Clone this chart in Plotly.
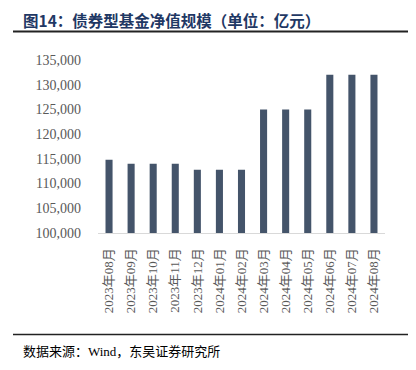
import plotly.graph_objects as go

categories = ["2023年08月", "2023年09月", "2023年10月", "2023年11月", "2023年12月",
              "2024年01月", "2024年02月", "2024年03月", "2024年04月", "2024年05月",
              "2024年06月", "2024年07月", "2024年08月"]
values = [114800, 114000, 114000, 114000, 112800, 112800, 112800,
          125000, 125000, 125000, 132000, 132000, 132000]
y_ticks = [100000, 105000, 110000, 115000, 120000, 125000, 130000, 135000]

OFF = 8  # page body margin in the browser
W, H = 416 - OFF, 370 - OFF
# plot area in page pixels: left 98, right 385, top 60, bottom 233
L, T = 98 - OFF, 60 - OFF
R = W - (385 - OFF)
B = H - (233 - OFF)
pw, ph = W - L - R, H - T - B

def px(x):
    return (x - OFF - L) / pw

def py(y):
    return 1 - (y - OFF - T) / ph

fig = go.Figure(go.Bar(x=categories, y=values, marker=dict(color="#44546A", line=dict(width=0)),
                       width=0.32))

fig.update_layout(
    width=W, height=H,
    margin=dict(l=L, r=R, t=T, b=B, autoexpand=False),
    paper_bgcolor="white", plot_bgcolor="white",
    showlegend=False,
    font=dict(family="Liberation Serif, Times New Roman, serif", color="#595959"),
    xaxis=dict(tickangle=-90, tickfont=dict(size=13, color="#595959",
                                             family="Liberation Serif, Noto Sans CJK SC, serif"),
               showline=True, linecolor="#D9D9D9", linewidth=1, showgrid=False,
               ticks="", ticklabelstandoff=9),
    yaxis=dict(range=[100000, 135000], tickvals=y_ticks,
               ticktext=[f"{v:,}" for v in y_ticks],
               tickfont=dict(size=14, color="#595959"),
               showgrid=False, showline=False, zeroline=False, ticks="",
               ticklabelstandoff=16),
)

fig.add_annotation(xref="paper", yref="paper", x=px(21), y=py(7), xanchor="left", yanchor="top",
                   text="<b>图14：债券型基金净值规模（单位：亿元）</b>", showarrow=False,
                   font=dict(size=15.5, color="#1F3864", family="Noto Sans CJK SC"))
fig.add_annotation(xref="paper", yref="paper", x=px(21), y=py(351), xanchor="left", yanchor="middle",
                   text="数据来源：Wind，东吴证券研究所", showarrow=False,
                   font=dict(size=13, color="#000000", family="Liberation Serif, Noto Sans CJK SC"))
fig.add_shape(type="line", xref="paper", yref="paper", x0=px(13), x1=px(414), y0=py(31.5), y1=py(31.5),
              line=dict(color="#222222", width=2))
fig.add_shape(type="line", xref="paper", yref="paper", x0=px(13), x1=px(414), y0=py(334.5), y1=py(334.5),
              line=dict(color="#222222", width=1.5))

fig.write_html("out.html")
